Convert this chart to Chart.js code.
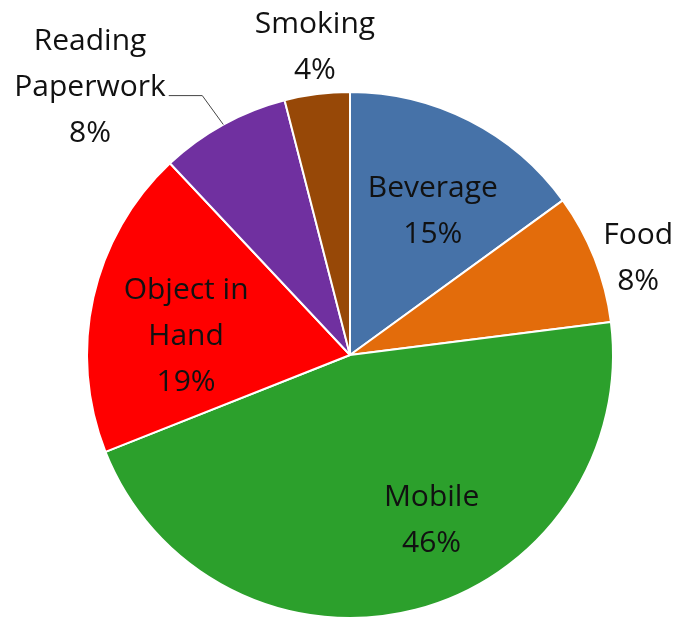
<!DOCTYPE html>
<html>
<head>
<meta charset="utf-8">
<script src="https://cdn.jsdelivr.net/npm/chart.js@4/dist/chart.umd.min.js"></script>
<style>
html,body{margin:0;padding:0;background:#fff;}
#wrap{width:681px;height:624px;position:relative;}
</style>
</head>
<body>
<div id="wrap"><canvas id="c"></canvas></div>
<script>
const categories = ['Beverage', 'Food', 'Mobile', 'Object in Hand', 'Reading Paperwork', 'Smoking'];
const shares = [15, 8, 46, 19, 8, 4];
const colors = ['#4672A8', '#E36C0B', '#2CA02C', '#FF0000', '#7030A0', '#974807'];
const labelLines = [['Beverage'], ['Food'], ['Mobile'], ['Object in', 'Hand'], ['Reading', 'Paperwork'], ['Smoking']];

// label placement: polar (degrees clockwise from top, fraction of radius)
const placement = [
  {a: 30, r: 0.63},
  {a: 71.4, r: 1.156},
  {a: 153.7, r: 0.70},
  {a: 276.3, r: 0.627},
  {a: 315.8, r: 1.418, leader: true},
  {a: 353.5, r: 1.178}
];

const FONT = '30px "Open Sans", sans-serif';
const LH = 46;

const labelPlugin = {
  id: 'pieLabels',
  afterDatasetsDraw(chart) {
    const ctx = chart.ctx;
    const meta = chart.getDatasetMeta(0);
    ctx.save();
    ctx.font = FONT;
    ctx.fillStyle = '#111';
    ctx.textAlign = 'center';
    ctx.textBaseline = 'middle';
    meta.data.forEach((arc, i) => {
      const cx = arc.x, cy = arc.y, R = arc.outerRadius;
      const p = placement[i];
      const th = p.a * Math.PI / 180;
      const x = cx + Math.sin(th) * R * p.r;
      const y = cy - Math.cos(th) * R * p.r;
      const lines = labelLines[i].concat([shares[i] + '%']);
      const n = lines.length;
      lines.forEach((t, k) => {
        ctx.fillText(t, x, y + (k - (n - 1) / 2) * LH);
      });
      if (p.leader) {
        const mid = (arc.startAngle + arc.endAngle) / 2;
        const ex = cx + Math.cos(mid) * R, ey = cy + Math.sin(mid) * R;
        const bx = cx + Math.cos(mid - 0.015) * R * 1.135, by = cy + Math.sin(mid - 0.015) * R * 1.135;
        const w = ctx.measureText(lines[1]).width;
        const sx = x + w / 2 + 3;
        ctx.beginPath();
        ctx.strokeStyle = '#444';
        ctx.lineWidth = 1;
        ctx.moveTo(sx, by);
        ctx.lineTo(bx, by);
        ctx.lineTo(ex, ey);
        ctx.stroke();
      }
    });
    ctx.restore();
  }
};

new Chart(document.getElementById('c'), {
  type: 'pie',
  data: {
    labels: categories,
    datasets: [{
      data: shares,
      backgroundColor: colors,
      borderColor: '#ffffff',
      borderWidth: 2
    }]
  },
  options: {
    responsive: true,
    maintainAspectRatio: false,
    animation: false,
    radius: 263,
    layout: {padding: {left: 19, right: 0, top: 86, bottom: 0}},
    plugins: {legend: {display: false}, tooltip: {enabled: false}}
  },
  plugins: [labelPlugin]
});
</script>
</body>
</html>
